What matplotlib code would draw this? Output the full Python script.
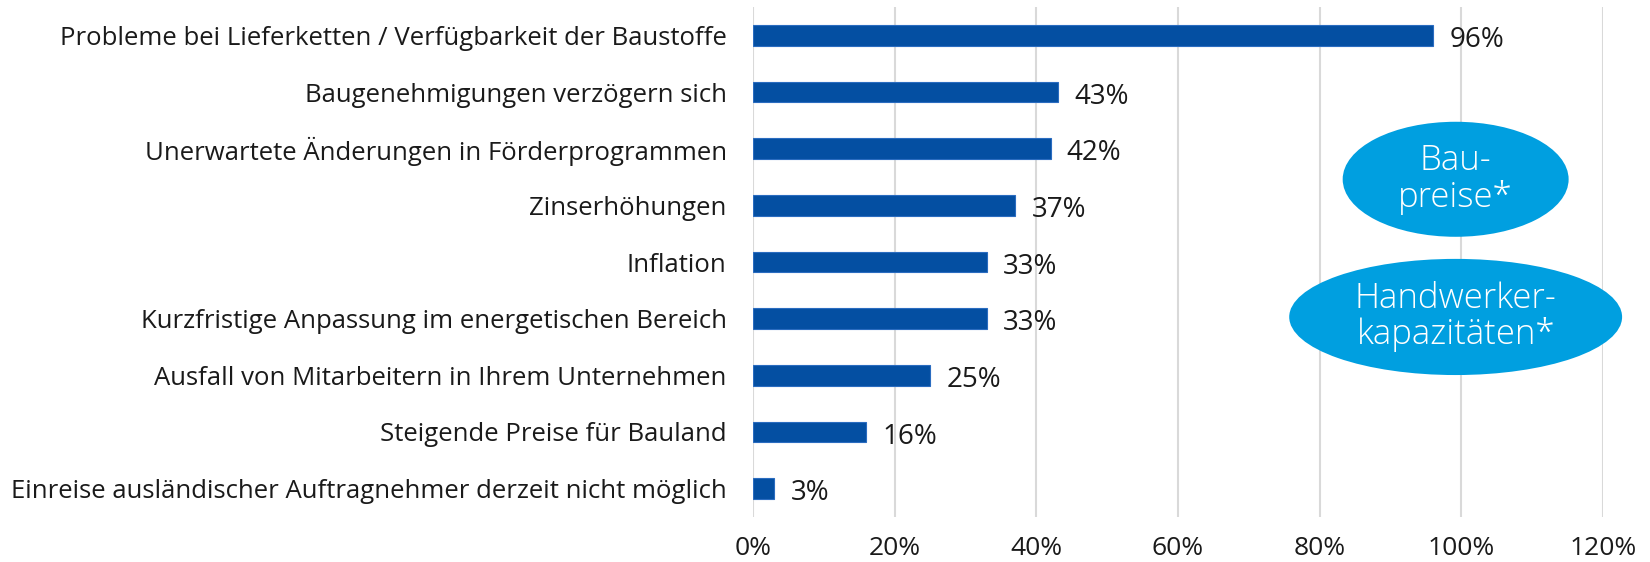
import matplotlib
matplotlib.use("Agg")
import matplotlib.pyplot as plt
from matplotlib.patches import Ellipse
from matplotlib.ticker import FuncFormatter

plt.rcParams["font.family"] = ["Open Sans", "DejaVu Sans"]

# Daten
categories = [
    "Probleme bei Lieferketten / Verfügbarkeit der Baustoffe",
    "Baugenehmigungen verzögern sich",
    "Unerwartete Änderungen in Förderprogrammen",
    "Zinserhöhungen",
    "Inflation",
    "Kurzfristige Anpassung im energetischen Bereich",
    "Ausfall von Mitarbeitern in Ihrem Unternehmen",
    "Steigende Preise für Bauland",
    "Einreise ausländischer Auftragnehmer derzeit nicht möglich",
]
values = [96, 43, 42, 37, 33, 33, 25, 16, 3]
x_ticks = [0, 20, 40, 60, 80, 100, 120]
bubbles = ["Bau-\npreise*", "Handwerker-\nkapazitäten*"]

bar_color = "#044fa2"
bubble_color = "#009fe0"
text_color = "#1a1a1a"

fig = plt.figure(figsize=(16.5, 5.62), dpi=100)
ax = fig.add_axes([0.4564, 0.0801, 0.5151, 0.9074])

y = list(range(len(categories)))
ax.barh(y, values, height=0.365, color=bar_color, edgecolor="#2a6cc0", linewidth=0.8, zorder=3)

# Wertebeschriftung (leicht nach unten, damit die Ziffern mittig am Balken sitzen)
for yi, v in zip(y, values):
    ax.text(v + 2.3, yi + 0.08, f"{v}%", va="center", ha="left", fontsize=20, color=text_color)

ax.set_xlim(0, 120)
ax.set_ylim(len(categories) - 0.5, -0.5)
ax.set_xticks(x_ticks)
ax.xaxis.set_major_formatter(FuncFormatter(lambda v, p: f"{int(v)}%"))
ax.set_yticks(y)
ax.set_yticklabels(categories)
ax.tick_params(axis="y", length=0, pad=19, labelsize=18.5, labelcolor=text_color)
ax.tick_params(axis="x", length=0, pad=14, labelsize=19, labelcolor=text_color)

ax.grid(axis="x", color="#d9d9d9", linewidth=1.5, zorder=0)
for s in ax.spines.values():
    s.set_visible(False)

# Hinweis-Blasen
for (cx, cy, w, h), label in zip([(99.2, 2.54, 31.9, 2.03), (99.2, 4.97, 47.0, 2.05)], bubbles):
    ax.add_patch(Ellipse((cx, cy), w, h, facecolor=bubble_color, edgecolor="none",
                         zorder=4, clip_on=False))
    ax.text(cx, cy, label, ha="center", va="center", color="white",
            fontsize=25, fontweight="light", linespacing=1.05, zorder=5)

fig.savefig("out.png", dpi=100)
